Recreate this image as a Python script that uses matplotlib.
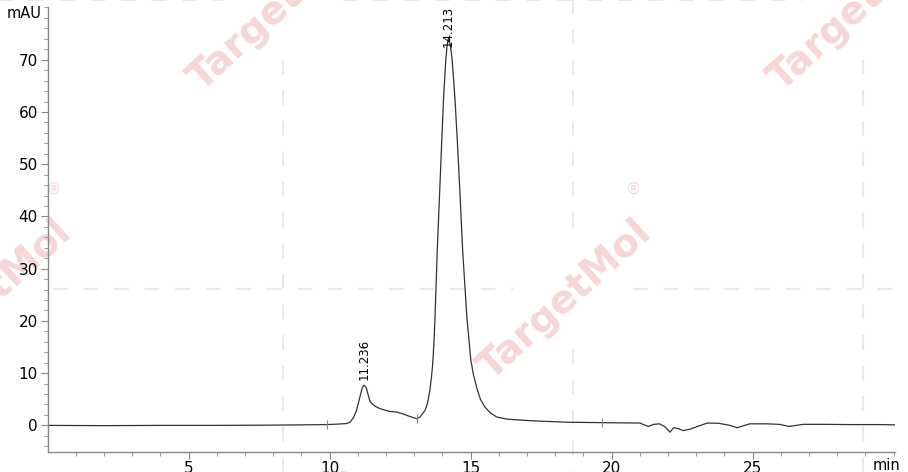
import numpy as np
import matplotlib.pyplot as plt

# chromatogram trace (time in min, signal in mAU)
t = [0, 2, 4, 6, 8, 9, 9.9, 10.3, 10.6, 10.73, 10.85, 10.96, 11.08, 11.16, 11.22,
     11.3, 11.44, 11.6, 11.79, 12.1, 12.38, 12.6, 12.85, 13.09, 13.21, 13.39, 13.47,
     13.54, 13.6, 13.65, 13.7, 13.74, 13.82, 13.9, 13.98, 14.04, 14.12, 14.17, 14.22,
     14.29, 14.35, 14.45, 14.53, 14.62, 14.72, 14.87, 15.01, 15.1, 15.22, 15.35,
     15.51, 15.7, 15.93, 16.3, 16.8, 17.5, 18.5, 20, 21, 21.3, 21.5, 21.7, 21.9,
     22.07, 22.2, 22.35, 22.55, 22.8, 23.1, 23.4, 23.8, 24.2, 24.45, 24.6, 24.9,
     25.5, 25.95, 26.3, 26.8, 27.5, 28.5, 29.5, 30.05]
mau = [0.0, -0.05, 0.0, 0.0, 0.05, 0.1, 0.15, 0.25, 0.35, 0.6, 1.5, 2.9, 5.5, 7.2, 7.7,
       7.2, 4.5, 3.7, 3.2, 2.7, 2.55, 2.2, 1.7, 1.28, 1.6, 2.9, 4.2,
       6.1, 8.5, 11.2, 15.5, 20.7, 33.5, 44.0, 54.6, 62.3, 69.9, 72.8, 74.2,
       72.5, 69.9, 62.3, 54.6, 45.0, 33.5, 20.7, 12.5, 9.8, 7.2, 5.0,
       3.5, 2.4, 1.6, 1.2, 1.0, 0.8, 0.6, 0.5, 0.45, -0.2, 0.2, 0.3, -0.3,
       -1.3, -0.45, -0.6, -1.0, -0.7, -0.1, 0.45, 0.4, 0.0, -0.45, -0.2, 0.3,
       0.3, 0.2, -0.2, 0.2, 0.2, 0.15, 0.15, 0.1]

peak_rt = [11.236, 14.213]
peak_h = [7.7, 74.2]
peak_lbl = ['11.236', '14.213']
event_t = [9.9, 13.1, 19.65]

W, H = 908, 472
fig = plt.figure(figsize=(W / 100, H / 100), dpi=100)

# watermark layer in pixel coords
bg = fig.add_axes([0, 0, 1, 1], zorder=-1)
bg.set_xlim(0, W)
bg.set_ylim(H, 0)
bg.axis('off')

grid_x = [283 + 290 * k for k in range(-1, 4)]
grid_y = [289 * m for m in range(-1, 3)]
holes = [(gx, gy) for i, gx in enumerate(grid_x) for j, gy in enumerate(grid_y)
         if (i + j) % 2 == 0]
gap = 60
dash = (0, (10.5 / 1.45, 11.5 / 1.45))
gcol = '#e8e8e8'
wcol = '#f6d6d6'
for gx in grid_x[1:]:
    cuts = sorted(hy for hx, hy in holes if hx == gx)
    y0 = -10
    for hy in cuts + [H + 200]:
        if hy - gap > y0:
            bg.plot([gx, gx], [y0, hy - gap], color=gcol, lw=1.45, ls=dash)
        y0 = hy + gap
for gy in grid_y[1:]:
    cuts = sorted(hx for hx, hy in holes if hy == gy)
    x0 = -10
    for hx in cuts + [W + 300]:
        if hx - gap > x0:
            bg.plot([x0, hx - gap], [gy, gy], color=gcol, lw=1.45, ls=dash)
        x0 = hx + gap

for hx, hy in holes:
    bg.text(hx - 8, hy + 11, 'TargetMol', rotation=42, ha='center', va='center',
            fontsize=28, fontweight='bold', color=wcol)
    bg.text(hx + 60, hy - 100, '\u00ae', ha='center', va='center',
            fontsize=11, color=wcol)

ax = fig.add_axes([47.5 / W, 20.5 / H, (895 - 47.5) / W, (464.5 - 20.5) / H])
ax.patch.set_alpha(0)
ax.plot(t, mau, color='#333333', lw=0.9)
ev_y = np.interp(event_t, t, mau)
ax.vlines(event_t, ev_y - 0.9, ev_y + 0.9, color='#888888', lw=0.8)

for rt, h, s in zip(peak_rt, peak_h, peak_lbl):
    ax.text(rt, min(h + 0.9, 72.5), s, rotation=90, ha='center', va='bottom',
            fontsize=8.5)

ax.set_xlim(0, 30.05)
ax.set_ylim(-5, 80)
ax.set_xticks([5, 10, 15, 20, 25])
ax.set_xticks(np.arange(1, 31), minor=True)
ax.set_yticks([0, 10, 20, 30, 40, 50, 60, 70])
ax.set_yticks(np.arange(-4, 81, 2), minor=True)
for s in ['top', 'right']:
    ax.spines[s].set_visible(False)
for s in ['left', 'bottom']:
    ax.spines[s].set_color('#888888')
    ax.spines[s].set_linewidth(1)
ax.tick_params(which='major', length=5, color='#888888', labelsize=11, pad=2)
ax.tick_params(which='minor', length=3, color='#888888')

fig.text(7 / W, 1 - 14 / H, 'mAU', fontsize=10.5, va='center', ha='left')
fig.text(900 / W, 1 - 465 / H, 'min', fontsize=10.5, va='center', ha='right')

fig.savefig('out.png', dpi=100)
